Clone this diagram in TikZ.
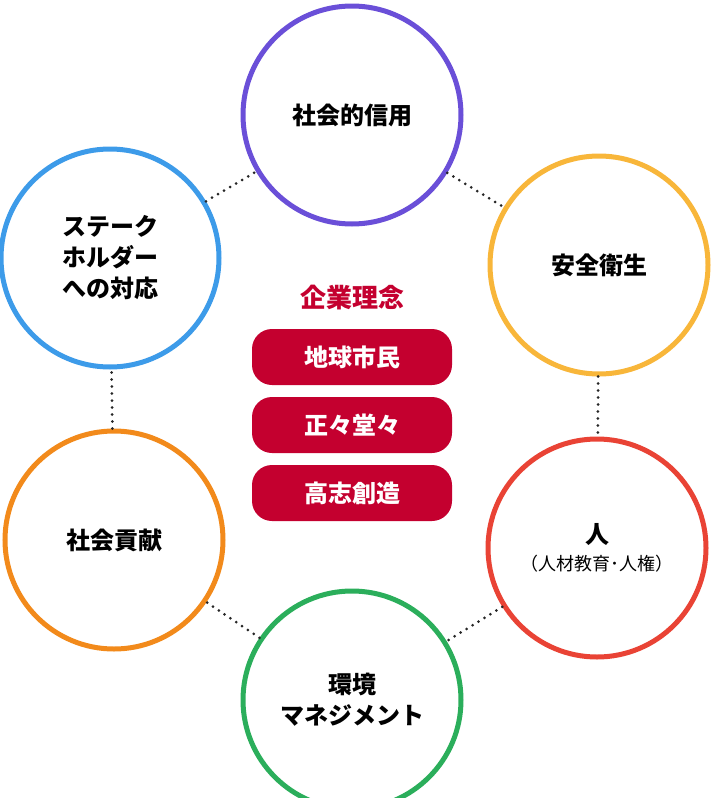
\documentclass[tikz,border=0pt]{standalone}
\usepackage{fontspec}
\setmainfont{Noto Sans CJK JP}[BoldFont={Noto Sans CJK JP Black}]
\begin{document}
\begin{tikzpicture}[x=1pt,y=-1pt,
  ring/.style={circle,draw=#1,line width=5pt,minimum size=218pt,inner sep=0pt,align=center,font=\bfseries\fontsize{24}{31}\selectfont},
  link/.style={line width=3pt,line cap=round,dash pattern=on 0pt off 7pt,black!85},
  pill/.style={rounded corners=20pt,fill=crim,text=white,minimum width=200pt,minimum height=56pt,font=\bfseries\fontsize{24}{28}\selectfont}]
\definecolor{crim}{HTML}{C4002F}
\definecolor{cpur}{HTML}{6A4FD8}
\definecolor{cyel}{HTML}{F8B63A}
\definecolor{cred}{HTML}{E94335}
\definecolor{cgrn}{HTML}{2BAE5B}
\definecolor{corg}{HTML}{F28A1B}
\definecolor{cblu}{HTML}{3D9BE9}
\useasboundingbox (0,0) rectangle (714,798);
\node[ring=cpur] (a) at (352,115) {社会的信用};
\node[ring=cyel] (b) at (599,265) {安全衛生};
\node[ring=cred] (c) at (597,548) {人\\[-4pt]{\fontsize{18}{22}\selectfont\mdseries（人材教育･人権）}};
\node[ring=cgrn] (d) at (352,700) {環境\\マネジメント};
\node[ring=corg] (e) at (114,540) {社会貢献};
\node[ring=cblu] (f) at (110,258) {ステーク\\ホルダー\\への対応};
\draw[link] (f) -- (a);
\draw[link] (a) -- (b);
\draw[link] (b) -- (c);
\draw[link] (c) -- (d);
\draw[link] (d) -- (e);
\draw[link] (e) -- (f);
\node[text=crim,font=\bfseries\fontsize{26}{30}\selectfont] (t) at (352,298) {企業理念};
\node[pill] (p1) at (352,357) {地球市民};
\node[pill] (p2) at (352,425) {正々堂々};
\node[pill] (p3) at (352,493) {高志創造};
\end{tikzpicture}
\end{document}
